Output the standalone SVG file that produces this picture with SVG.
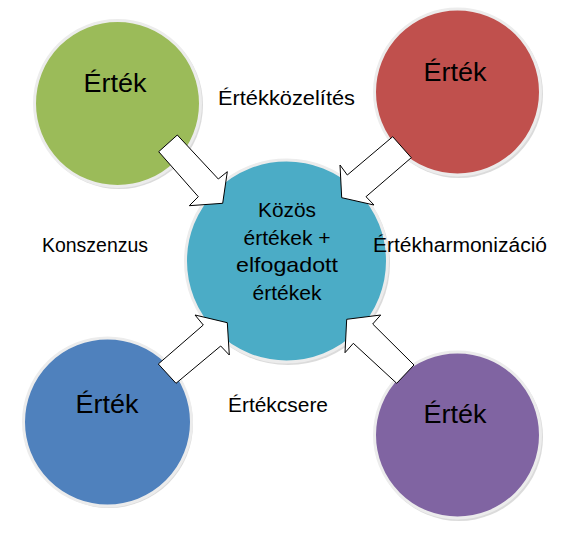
<svg xmlns="http://www.w3.org/2000/svg" width="582" height="544" viewBox="0 0 582 544">
<style>
.c{stroke:#ececec;stroke-width:3}
.sh{fill:#b8b8b8;opacity:0.5}
.t{font-family:"Liberation Sans",Arial,sans-serif;fill:#000;text-anchor:middle}
.big{font-size:26px}
.mid{font-size:21px}
.lab{font-size:20px}
.ar{fill:#fff;stroke:#000;stroke-width:1;stroke-linejoin:miter}
</style>
<rect width="582" height="544" fill="#fff"/>
<g id="n-green">
<circle class="sh" cx="119" cy="105" r="84"/>
<circle class="c" cx="117.5" cy="103.5" r="83" fill="#9BBB59"/>
<text class="t big" x="115" y="92" textLength="63" lengthAdjust="spacingAndGlyphs">Érték</text>
</g>
<g id="n-red">
<circle class="sh" cx="459" cy="94" r="84"/>
<circle class="c" cx="457.5" cy="92" r="83" fill="#C0504D"/>
<text class="t big" x="455" y="81" textLength="63" lengthAdjust="spacingAndGlyphs">Érték</text>
</g>
<g id="n-blue">
<circle class="sh" cx="109" cy="424" r="84"/>
<circle class="c" cx="107.5" cy="422" r="84" fill="#4F81BD"/>
<text class="t big" x="107" y="413" textLength="63" lengthAdjust="spacingAndGlyphs">Érték</text>
</g>
<g id="n-purple">
<circle class="sh" cx="459" cy="437" r="84"/>
<circle class="c" cx="457.5" cy="435" r="83" fill="#8064A2"/>
<text class="t big" x="455" y="423" textLength="63" lengthAdjust="spacingAndGlyphs">Érték</text>
</g>
<g id="n-center">
<circle class="sh" cx="288" cy="263" r="102"/>
<circle class="c" cx="286.5" cy="261" r="101" fill="#4BACC6"/>
<text class="t mid" x="287" y="217" textLength="58" lengthAdjust="spacingAndGlyphs">Közös</text>
<text class="t mid" x="287" y="245">értékek +</text>
<text class="t mid" x="287" y="272" textLength="102" lengthAdjust="spacingAndGlyphs">elfogadott</text>
<text class="t mid" x="287" y="300">értékek</text>
</g>
<g id="connectors">
<polygon class="ar" points="158.7,151.7 177.3,135 218.3,179 227.3,171.7 222.7,203.3 189.3,205.7 198.3,196.7"/>
<polygon class="ar" points="392.7,136.7 411.3,157.7 366,196.7 374,205 341.7,197.7 340,165 347.3,175"/>
<polygon class="ar" points="158.3,364 176,383.3 220.7,346 229.3,355 227.3,322.7 195,315 203.3,325"/>
<polygon class="ar" points="396.7,383.3 414,365 372.7,324 380.7,315 346.7,319.3 345,352.7 353.3,343.3"/>
</g>
<g id="labels">
<text class="t lab" x="286.5" y="105" textLength="137" lengthAdjust="spacingAndGlyphs">Értékközelítés</text>
<text class="t lab" x="95" y="252" textLength="106" lengthAdjust="spacingAndGlyphs">Konszenzus</text>
<text class="t lab" x="460" y="252" textLength="174" lengthAdjust="spacingAndGlyphs">Értékharmonizáció</text>
<text class="t lab" x="278" y="412" textLength="100" lengthAdjust="spacingAndGlyphs">Értékcsere</text>
</g>
</svg>
